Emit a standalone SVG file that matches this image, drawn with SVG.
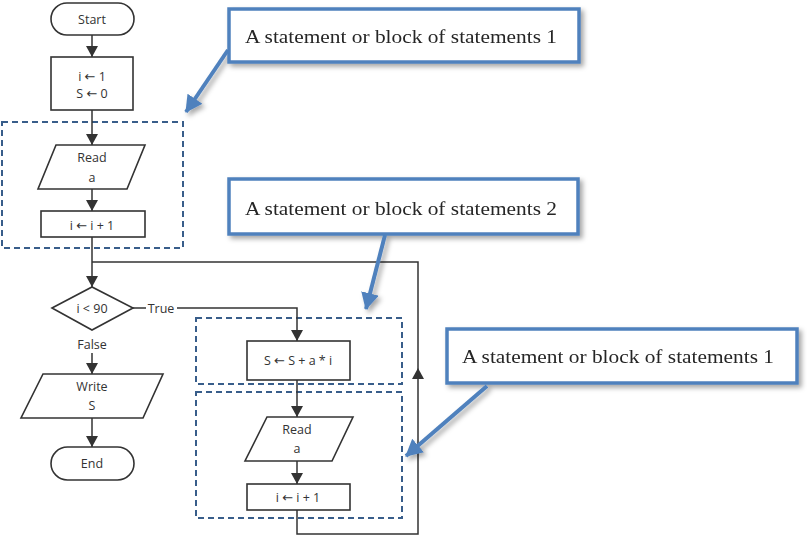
<svg xmlns="http://www.w3.org/2000/svg" width="807" height="536" viewBox="0 0 807 536">
<defs>
<style>
.shape{fill:#fff;stroke:#333;stroke-width:1.6}
.t{font-family:"Open Sans","Noto Sans",sans-serif;font-size:12.5px;fill:#333;text-anchor:middle;dominant-baseline:central}
.ar{font-family:"DejaVu Sans",sans-serif;font-size:13px}
.conn{fill:none;stroke:#333;stroke-width:1.5}
.dash{fill:none;stroke:#385d8a;stroke-width:2;stroke-dasharray:6 4}
.call{fill:#fff;stroke:#4f81bd;stroke-width:3.5}
.ct{font-family:"Liberation Serif","DejaVu Serif",serif;font-size:18.5px;fill:#262626;text-anchor:middle}
.cl{fill:none;stroke:#4f81bd;stroke-width:4}
</style>
<marker id="ah" markerWidth="11" markerHeight="12" refX="11" refY="6" orient="auto" markerUnits="userSpaceOnUse">
<path d="M0,0 L11,6 L0,12 Z" fill="#333"/>
</marker>
<marker id="bh" markerWidth="18" markerHeight="18" refX="16" refY="9" orient="auto" markerUnits="userSpaceOnUse">
<path d="M0,0 L17,9 L0,18 Z" fill="#4f81bd"/>
</marker>
<filter id="sh" x="-10%" y="-20%" width="130%" height="150%">
<feDropShadow dx="3" dy="3" stdDeviation="2.5" flood-color="#000" flood-opacity="0.35"/>
</filter>
</defs>

<g id="regions">
<rect class="dash" x="2" y="122" width="181" height="126"/>
<rect class="dash" x="196" y="318" width="206" height="66"/>
<rect class="dash" x="196" y="392" width="206" height="126"/>
</g>

<g id="connectors">
<path class="conn" d="M92,35 V57" marker-end="url(#ah)"/>
<path class="conn" d="M92,110 V145" marker-end="url(#ah)"/>
<path class="conn" d="M92,189 V211" marker-end="url(#ah)"/>
<path class="conn" d="M92,237 V287" marker-end="url(#ah)"/>
<path class="conn" d="M133,308 H146"/>
<path class="conn" d="M177,308 H297 V341" marker-end="url(#ah)"/>
<path class="conn" d="M92,353 V374" marker-end="url(#ah)"/>
<path class="conn" d="M92,418 V447" marker-end="url(#ah)"/>
<path class="conn" d="M297,380 V417" marker-end="url(#ah)"/>
<path class="conn" d="M297,461 V484" marker-end="url(#ah)"/>
<path class="conn" d="M297,510 V534 H418 V368" marker-end="url(#ah)"/>
<path class="conn" d="M418,368 V262 H92"/>
<text class="t" x="161" y="308">True</text>
<text class="t" x="92" y="344">False</text>
</g>

<g id="start">
<rect class="shape" x="51" y="3" width="83" height="32" rx="16"/>
<text class="t" x="92" y="19">Start</text>
</g>
<g id="init">
<rect class="shape" x="51" y="57" width="82" height="53"/>
<text class="t" x="92" y="76">i <tspan class="ar">←</tspan> 1</text>
<text class="t" x="92" y="93">S <tspan class="ar">←</tspan> 0</text>
</g>
<g id="read1">
<polygon class="shape" points="56,145 145,145 127,189 38,189"/>
<text class="t" x="92" y="157">Read</text>
<text class="t" x="92" y="177">a</text>
</g>
<g id="inc1">
<rect class="shape" x="41" y="211" width="104" height="26"/>
<text class="t" x="92" y="225">i <tspan class="ar">←</tspan> i + 1</text>
</g>
<g id="decision">
<polygon class="shape" points="52,308 92,287 133,308 92,330"/>
<text class="t" x="92" y="308">i &lt; 90</text>
</g>
<g id="write">
<polygon class="shape" points="43,374 163,374 143,418 21,418"/>
<text class="t" x="92" y="386">Write</text>
<text class="t" x="92" y="405">S</text>
</g>
<g id="end">
<rect class="shape" x="51" y="447" width="83" height="33" rx="16.5"/>
<text class="t" x="92" y="463">End</text>
</g>
<g id="sum">
<rect class="shape" x="247" y="341" width="103" height="39"/>
<text class="t" x="298" y="360">S <tspan class="ar">←</tspan> S + a * i</text>
</g>
<g id="read2">
<polygon class="shape" points="267,417 353,417 332,461 245,461"/>
<text class="t" x="297" y="429">Read</text>
<text class="t" x="297" y="448">a</text>
</g>
<g id="inc2">
<rect class="shape" x="247" y="484" width="103" height="26"/>
<text class="t" x="298" y="497">i <tspan class="ar">←</tspan> i + 1</text>
</g>

<g id="callout1" filter="url(#sh)">
<path class="cl" d="M228,50 L186,112" marker-end="url(#bh)"/>
<rect class="call" x="229" y="9" width="350" height="53"/>
<text class="ct" x="401" y="43" textLength="312" lengthAdjust="spacingAndGlyphs">A statement or block of statements 1</text>
</g>
<g id="callout2" filter="url(#sh)">
<path class="cl" d="M385,235 L366,309" marker-end="url(#bh)"/>
<rect class="call" x="229" y="179" width="349" height="55"/>
<text class="ct" x="401" y="215" textLength="312" lengthAdjust="spacingAndGlyphs">A statement or block of statements 2</text>
</g>
<g id="callout3" filter="url(#sh)">
<path class="cl" d="M487,386 L406,456" marker-end="url(#bh)"/>
<rect class="call" x="447" y="329" width="350" height="54"/>
<text class="ct" x="618" y="363" textLength="312" lengthAdjust="spacingAndGlyphs">A statement or block of statements 1</text>
</g>
</svg>
